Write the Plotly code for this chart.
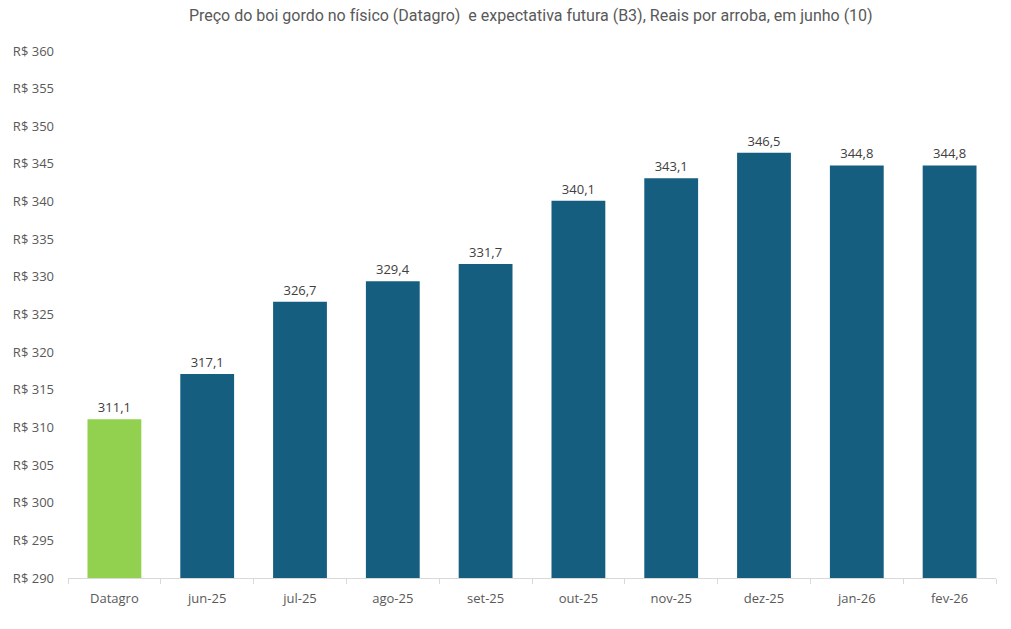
import plotly.graph_objects as go

categories = ["Datagro", "jun-25", "jul-25", "ago-25", "set-25", "out-25", "nov-25", "dez-25", "jan-26", "fev-26"]
values = [311.1, 317.1, 326.7, 329.4, 331.7, 340.1, 343.1, 346.5, 344.8, 344.8]
colors = ["#92D050"] + ["#165E80"] * 9
labels = [f"{v:.1f}".replace(".", ",") for v in values]
y_ticks = list(range(290, 361, 5))
y_tick_text = [f"R$ {t}" for t in y_ticks]
base_value = 290

fig = go.Figure(go.Bar(
    x=categories, y=[v - base_value for v in values], base=base_value,
    marker=dict(color=colors, line=dict(width=0)),
    text=labels, textposition="outside", cliponaxis=False,
    textfont=dict(family="Open Sans", size=13, color="#404040"),
    hoverinfo="skip",
))

fig.update_layout(
    width=1011, height=629,
    margin=dict(l=68, r=15, t=51, b=51),
    paper_bgcolor="white", plot_bgcolor="white",
    bargap=0.42, showlegend=False,
    title=dict(text="Preço do boi gordo no físico (Datagro)  e expectativa futura (B3), Reais por arroba, em junho (10)",
               x=0.525, xanchor="center", y=0.975, yanchor="middle",
               font=dict(family="Liberation Sans Narrow, Roboto", size=16, color="#595959")),
)
fig.update_xaxes(
    showline=True, linecolor="#D9D9D9", linewidth=1,
    ticks="outside", tickson="boundaries", ticklen=5, tickcolor="#D9D9D9",
    tickfont=dict(family="Open Sans", size=13, color="#595959"),
    ticklabelstandoff=8,
    showgrid=False,
)
fig.update_yaxes(
    range=[290, 360], tickvals=y_ticks, ticktext=y_tick_text,
    showgrid=False, zeroline=False, showline=False,
    tickfont=dict(family="Open Sans", size=13, color="#595959"),
    ticklabelstandoff=13,
)
fig.write_html("out.html")
